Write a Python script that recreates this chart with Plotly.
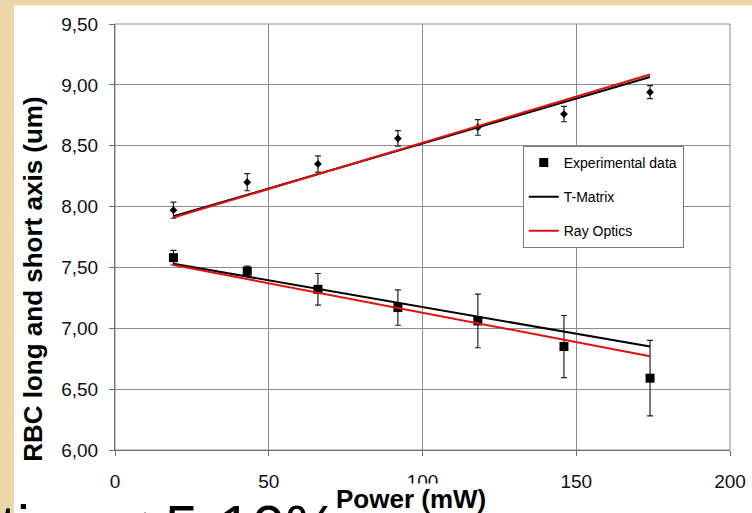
import plotly.graph_objects as go

# ---- data ----
power = [19, 43, 66, 92, 118, 146, 174]
long_axis = [7.97, 8.20, 8.35, 8.56, 8.65, 8.76, 8.94]
long_err = [0.066, 0.07, 0.067, 0.064, 0.064, 0.063, 0.053]
short_axis = [7.58, 7.47, 7.32, 7.17, 7.06, 6.85, 6.59]
short_err = [0.06, 0.04, 0.13, 0.145, 0.22, 0.255, 0.31]

fit_power = [19, 174]
tmatrix_long = [7.92, 9.065]
ray_long = [7.91, 9.085]
tmatrix_short = [7.53, 6.85]
ray_short = [7.52, 6.77]

x_ticks = [0, 50, 100, 150, 200]
y_ticks = [6.0, 6.5, 7.0, 7.5, 8.0, 8.5, 9.0, 9.5]

FONT = "Liberation Sans, Arial, sans-serif"
BEIGE = "#ecd7a6"
GRID = "#8c8c8c"

fig = go.Figure()

# experimental data (short axis, in legend)
fig.add_trace(go.Scatter(
    x=power, y=short_axis, mode="markers", name="Experimental data",
    legendgroup="a",
    marker=dict(symbol="square", size=9, color="black"),
    error_y=dict(type="data", array=short_err, color="#222222", thickness=1.2, width=3),
))
# experimental data (long axis)
fig.add_trace(go.Scatter(
    x=power, y=long_axis, mode="markers", name="Experimental data (long)",
    showlegend=False,
    marker=dict(symbol="diamond", size=6, color="black"),
    error_y=dict(type="data", array=long_err, color="#222222", thickness=1.2, width=3),
))
# T-Matrix
fig.add_trace(go.Scatter(
    x=fit_power, y=tmatrix_short, mode="lines", name="T-Matrix", legendgroup="b",
    line=dict(color="black", width=2),
))
fig.add_trace(go.Scatter(
    x=fit_power, y=tmatrix_long, mode="lines", name="T-Matrix", showlegend=False,
    line=dict(color="black", width=2),
))
# Ray Optics
fig.add_trace(go.Scatter(
    x=fit_power, y=ray_short, mode="lines", name="Ray Optics", legendgroup="c",
    line=dict(color="#e01010", width=2),
))
fig.add_trace(go.Scatter(
    x=fit_power, y=ray_long, mode="lines", name="Ray Optics", showlegend=False,
    line=dict(color="#e01010", width=2),
))

fig.update_layout(
    width=752, height=513,
    margin=dict(l=115, r=22, t=24, b=63, autoexpand=False),
    paper_bgcolor=BEIGE,
    plot_bgcolor="white",
    separators=",.",
    font=dict(family=FONT, color="black", size=19),
    showlegend=True,
    legend=dict(
        x=0.663, y=0.714, xanchor="left", yanchor="top",
        bgcolor="white", bordercolor="#7a7a7a", borderwidth=1,
        font=dict(size=14, family=FONT, color="black"),
        traceorder="grouped", tracegroupgap=13, itemwidth=30,
    ),
    xaxis=dict(
        range=[0, 200], tickvals=x_ticks, showgrid=True, gridcolor=GRID, gridwidth=1,
        showline=True, linecolor="#6e6e6e", linewidth=1,
        ticks="outside", ticklen=5, tickcolor="#6e6e6e",
        ticklabelstandoff=9, zeroline=False, automargin=False,
        tickfont=dict(size=19, color="#111111"),
    ),
    yaxis=dict(
        range=[6.0, 9.5], tickvals=y_ticks, tickformat=".2f",
        showgrid=True, gridcolor=GRID, gridwidth=1,
        showline=True, linecolor="#6e6e6e", linewidth=1,
        ticks="outside", ticklen=5, tickcolor="#6e6e6e",
        ticklabelstandoff=7, zeroline=False, automargin=False,
        tickfont=dict(size=19, color="#111111"),
    ),
    shapes=[
        # white chart area on the beige slide
        dict(type="rect", xref="paper", yref="paper",
             x0=-0.1642, x1=1.04, y0=-0.16, y1=1.0435,
             fillcolor="white", line=dict(width=0), layer="below"),
        # plot area frame (top / right)
        dict(type="rect", xref="x domain", yref="y domain",
             x0=0, x1=1, y0=0, y1=1,
             line=dict(color="#8c8c8c", width=1), fillcolor="rgba(0,0,0,0)", layer="below"),
    ],
    annotations=[
        # slide text behind the chart, cut off at the bottom
        dict(text="tion < 5-10%", xref="paper", yref="paper",
             x=-0.19, y=-0.096, xanchor="left", yanchor="top", showarrow=False,
             font=dict(size=60, family=FONT, color="black")),
        # x-axis title
        dict(text="<b>Power (mW)</b>", xref="paper", yref="paper",
             x=0.482, y=-0.0776, xanchor="center", yanchor="top", showarrow=False,
             bgcolor="white", borderpad=0,
             font=dict(size=26, family=FONT, color="black")),
        # y-axis title
        dict(text="<b>RBC long and short axis (um)</b>", xref="paper", yref="paper",
             x=-0.1333, y=0.3995, xanchor="center", yanchor="middle", showarrow=False,
             textangle=-90,
             font=dict(size=26, family=FONT, color="black")),
    ],
)

fig.write_html("out.html")
